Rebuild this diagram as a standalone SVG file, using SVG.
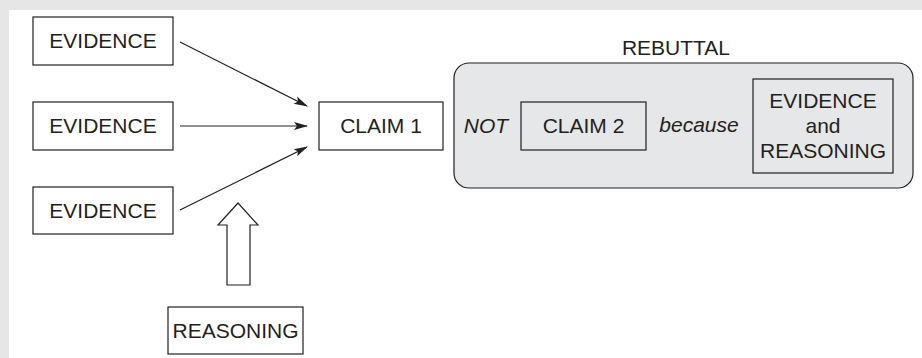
<svg xmlns="http://www.w3.org/2000/svg" width="922" height="358" viewBox="0 0 922 358">
<style>
  .box{fill:#fff;stroke:#231f20;stroke-width:1.2}
  .inbox{fill:none;stroke:#231f20;stroke-width:1.2}
  .t{font-family:"Liberation Sans",Arial,sans-serif;font-size:21px;fill:#231f20;text-anchor:middle}
  .i{font-style:italic}
  .conn{stroke:#231f20;stroke-width:1.2;fill:none}
</style>
<defs>
  <marker id="ah" markerWidth="14" markerHeight="10" refX="13" refY="5" orient="auto" markerUnits="userSpaceOnUse">
    <path d="M0,1 L14,5 L0,9 L3,5 Z" fill="#231f20"/>
  </marker>
</defs>
<rect x="0" y="0" width="922" height="358" fill="#e6e6e6"/>
<rect x="9" y="10" width="913" height="348" fill="#fff"/>

<g id="evidence1"><rect class="box" x="33" y="17" width="140" height="48"/><text class="t" x="103" y="48">EVIDENCE</text></g>
<g id="evidence2"><rect class="box" x="33" y="102" width="140" height="48"/><text class="t" x="103" y="133">EVIDENCE</text></g>
<g id="evidence3"><rect class="box" x="33" y="187" width="140" height="47"/><text class="t" x="103" y="218">EVIDENCE</text></g>
<g id="claim1"><rect class="box" x="319" y="102" width="124" height="48"/><text class="t" x="381" y="133">CLAIM 1</text></g>
<g id="reasoning"><rect class="box" x="168" y="307" width="135" height="47"/><text class="t" x="235.5" y="338">REASONING</text></g>

<g id="rebuttal">
  <text class="t" x="676" y="55">REBUTTAL</text>
  <rect x="454" y="63" width="459" height="125" rx="15" ry="15" fill="#e6e7e8" stroke="#231f20" stroke-width="1.2"/>
  <text class="t i" x="486" y="133">NOT</text>
  <g id="claim2"><rect class="inbox" x="521" y="102" width="125" height="48"/><text class="t" x="583.5" y="133">CLAIM 2</text></g>
  <text class="t i" x="699" y="132">because</text>
  <g id="evreason"><rect class="inbox" x="753" y="79" width="140" height="94"/>
    <text class="t" x="823" y="108">EVIDENCE</text>
    <text class="t" x="823" y="133">and</text>
    <text class="t" x="823" y="158">REASONING</text>
  </g>
</g>

<g id="connectors">
  <line class="conn" x1="180" y1="42" x2="307" y2="106" marker-end="url(#ah)"/>
  <line class="conn" x1="180" y1="126" x2="307" y2="126" marker-end="url(#ah)"/>
  <line class="conn" x1="180" y1="210" x2="307" y2="147" marker-end="url(#ah)"/>
  <path d="M238,203 L258,225 L250,225 L250,285 L227,285 L227,225 L218,225 Z" fill="#fff" stroke="#231f20" stroke-width="1.2"/>
</g>
</svg>
